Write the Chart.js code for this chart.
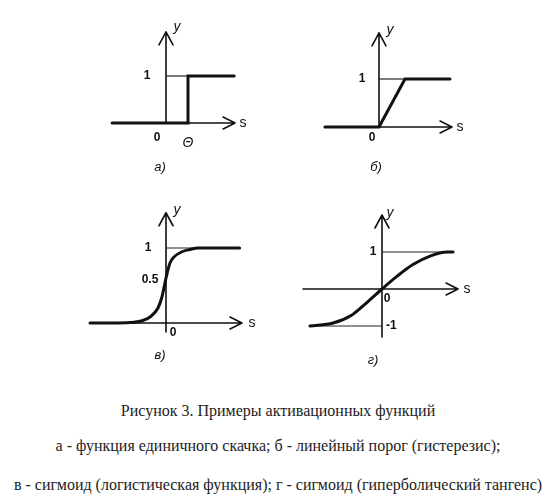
<!DOCTYPE html>
<html>
<head>
<meta charset="utf-8">
<script src="https://cdn.jsdelivr.net/npm/chart.js@4.4.1/dist/chart.umd.min.js"></script>
<style>
  body { margin: 0; background: #fff; }
  #page { position: relative; width: 556px; height: 503px; overflow: hidden; }
  #page canvas { position: absolute; left: 0; top: 0; }
  .cap {
    position: absolute; left: 0; width: 556px; text-align: center;
    font-family: "Liberation Serif", "DejaVu Serif", serif; font-size: 16px;
    line-height: 18px; color: #222; white-space: nowrap;
  }
</style>
</head>
<body>
<div id="page">
  <canvas id="chartA" width="556" height="380"></canvas>
  <canvas id="chartB" width="556" height="380"></canvas>
  <canvas id="chartV" width="556" height="380"></canvas>
  <canvas id="chartG" width="556" height="380"></canvas>
  <div class="cap" style="top:402px">Рисунок 3. Примеры активационных функций</div>
  <div class="cap" style="top:437px">а - функция единичного скачка; б - линейный порог (гистерезис);</div>
  <div class="cap" style="top:476px">в - сигмоид (логистическая функция); г - сигмоид (гиперболический тангенс)</div>
</div>
<script>
// а) функция единичного скачка
const stepS = [-2.45, 1, 1, 3.1];
const stepY = [0, 0, 1, 1];
const stepGuideS = [0, 1];
const stepGuideY = [1, 1];

// б) линейный порог
const rampS = [-2.08, 0, 1, 2.73];
const rampY = [0, 0, 1, 1];
const rampGuideS = [0, 1];
const rampGuideY = [1, 1];

// в) сигмоид (логистическая функция)
const logS = [-9.5, -6, -4, -3, -2, -1, -0.5, 0, 0.5, 1, 2, 3, 4, 6, 9.2];
const logY = [0, 0, 0.01, 0.03, 0.08, 0.2, 0.35, 0.6, 0.8, 0.88, 0.95, 0.98, 1, 1, 1];
const logGuideS = [0, 9.25];
const logGuideY = [1, 1];

// г) сигмоид (гиперболический тангенс)
const tanhS = [-3, -2.04, -1.25, -0.62, 0, 0.62, 1.29, 2.0, 2.71, 2.96];
const tanhY = [-1, -0.92, -0.7, -0.36, 0, 0.34, 0.66, 0.89, 1, 1];
const tanhGuideS = [0, 2.96, null, -3, 0];
const tanhGuideY = [1, 1, null, -1, -1];

// axis extents (s from..to, y from..to)
const axisA = [-2.45, 3.14, 0, 1.94];
const axisB = [-2.08, 2.81, 0, 1.96];
const axisV = [-9.5, 9.5, -0.12, 1.47];
const axisG = [-3.29, 3.17, -1.3, 2.0];

// tick labels: text, s, y
const labelsA = [["1", 0, 1], ["0", 0, 0], ["Θ", 1, 0]];
const labelsB = [["1", 0, 1], ["0", 0, 0]];
const labelsV = [["1", 0, 1], ["0.5", 0, 0.5], ["0", 0, 0]];
const labelsG = [["1", 0, 1], ["-1", 0, -1], ["0", 0, 0]];
const panelNames = ["а)", "б)", "в)", "г)"];

const pts = (xs, ys) => xs.map((s, i) => (s === null ? { x: null, y: null } : { x: s, y: ys[i] }));

const ink = "#111";

const sketch = {
  id: "sketch",
  beforeDatasetsDraw(chart, args, o) {
    const { ctx, scales: { x, y } } = chart;
    const [s0, s1, y0, y1] = o.axis;
    const X = v => x.getPixelForValue(v), Y = v => y.getPixelForValue(v);
    ctx.save();
    ctx.strokeStyle = ink;
    ctx.lineWidth = 1.6;
    ctx.lineCap = "round";
    ctx.lineJoin = "round";
    ctx.beginPath();
    ctx.moveTo(X(s0), Y(0)); ctx.lineTo(X(s1), Y(0));
    ctx.moveTo(X(0), Y(y0)); ctx.lineTo(X(0), Y(y1));
    // arrow heads
    ctx.moveTo(X(s1) - 12, Y(0) - 6); ctx.lineTo(X(s1), Y(0)); ctx.lineTo(X(s1) - 12, Y(0) + 6);
    ctx.moveTo(X(0) - 7, Y(y1) + 13); ctx.lineTo(X(0), Y(y1)); ctx.lineTo(X(0) + 7, Y(y1) + 13);
    ctx.stroke();
    ctx.restore();
  },
  afterDatasetsDraw(chart, args, o) {
    const { ctx, scales: { x, y } } = chart;
    const [s0, s1, y0, y1] = o.axis;
    const X = v => x.getPixelForValue(v), Y = v => y.getPixelForValue(v);
    ctx.save();
    ctx.fillStyle = ink;
    ctx.textBaseline = "middle";
    o.labels.forEach(([t, s, v], i) => {
      const off = o.offsets[i];
      ctx.font = t === "Θ" ? "italic 14px 'Liberation Sans'" : "bold 12px 'Liberation Sans'";
      ctx.textAlign = off[2] || "center";
      ctx.fillText(t, X(s) + off[0], Y(v) + off[1]);
    });
    ctx.font = "italic 14px 'Liberation Sans'";
    ctx.textAlign = "center";
    ctx.fillText("y", X(0) + o.yLab[0], Y(y1) + o.yLab[1]);
    ctx.font = "14px 'Liberation Sans'";
    ctx.fillText("s", X(s1) + o.sLab, Y(0));
    ctx.font = "italic 13px 'Liberation Sans'";
    ctx.fillText(o.name, X(0) + o.nameAt[0], Y(0) + o.nameAt[1]);
    ctx.restore();
  }
};

function makeChart(id, origin, curve, guide, smooth, axis, labels, offsets, name, extra) {
  const [ox, oy, ux, uy] = origin;
  return new Chart(document.getElementById(id), {
    type: "line",
    data: {
      datasets: [
        {
          data: pts(curve[0], curve[1]),
          borderColor: ink,
          borderWidth: 3,
          pointRadius: 0,
          tension: 0,
          cubicInterpolationMode: smooth ? "monotone" : "default",
          borderCapStyle: "round",
          borderJoinStyle: "miter",
        },
        {
          data: pts(guide[0], guide[1]),
          borderColor: "#222",
          borderWidth: 1.2,
          pointRadius: 0,
          spanGaps: false,
        },
      ],
    },
    options: {
      responsive: false,
      animation: false,
      devicePixelRatio: 1,
      layout: { padding: 0 },
      scales: {
        x: { type: "linear", display: false, min: -ox / ux, max: (556 - ox) / ux },
        y: { type: "linear", display: false, min: (oy - 380) / uy, max: oy / uy },
      },
      plugins: {
        legend: { display: false },
        tooltip: { enabled: false },
        sketch: Object.assign({ axis, labels, offsets, name }, extra),
      },
    },
    plugins: [sketch],
  });
}

makeChart("chartA", [166, 123, 22, 47], [stepS, stepY], [stepGuideS, stepGuideY], false, axisA,
  labelsA, [[-19, 0], [-9, 15], [0, 20]], panelNames[0],
  { yLab: [11, -5], sLab: 8, nameAt: [-6, 44] });

makeChart("chartB", [379, 127, 26, 48], [rampS, rampY], [rampGuideS, rampGuideY], false, axisB,
  labelsB, [[-17, 0], [-7, 11]], panelNames[1],
  { yLab: [11, -3], sLab: 8, nameAt: [-3, 40] });

makeChart("chartV", [166, 323, 8, 75], [logS, logY], [logGuideS, logGuideY], true, axisV,
  labelsV, [[-18, 0], [-16, -6], [7, 10]], panelNames[2],
  { yLab: [11, -3], sLab: 10, nameAt: [-6, 32] });

makeChart("chartG", [382, 289, 24, 37], [tanhS, tanhY], [tanhGuideS, tanhGuideY], true, axisG,
  labelsG, [[-9, 0], [4, 0, "left"], [5, 10]], panelNames[3],
  { yLab: [8, -2], sLab: 9, nameAt: [-9, 71] });
</script>
</body>
</html>
